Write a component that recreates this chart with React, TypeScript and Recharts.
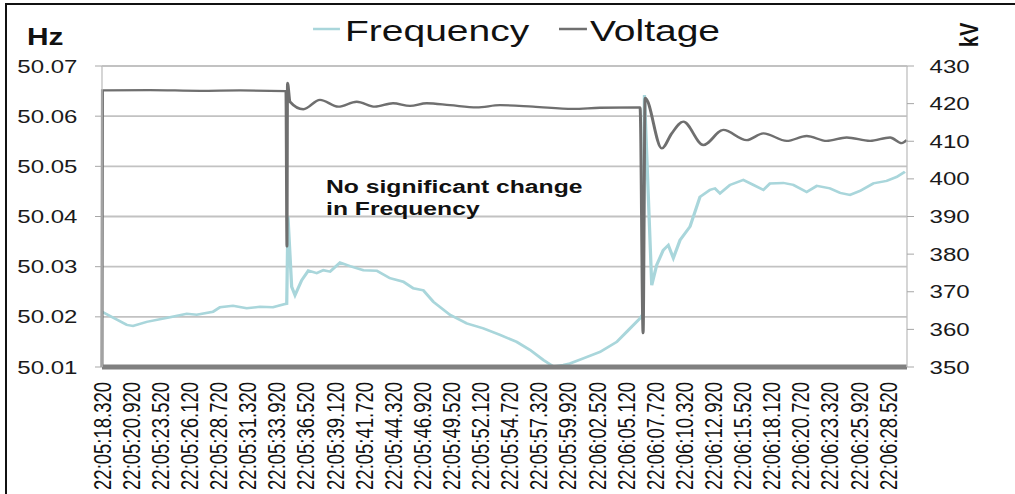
import { LineChart, Line, XAxis, YAxis, CartesianGrid } from 'recharts';

// the reference picture is horizontally stretched, so the chart is drawn narrow and scaled in x
const S = 1.3;
const W = 781;
const H = 494;

const timeLabels = [
  '22:05:18.320', '22:05:20.920', '22:05:23.520', '22:05:26.120', '22:05:28.720',
  '22:05:31.320', '22:05:33.920', '22:05:36.520', '22:05:39.120', '22:05:41.720',
  '22:05:44.320', '22:05:46.920', '22:05:49.520', '22:05:52.120', '22:05:54.720',
  '22:05:57.320', '22:05:59.920', '22:06:02.520', '22:06:05.120', '22:06:07.720',
  '22:06:10.320', '22:06:12.920', '22:06:15.520', '22:06:18.120', '22:06:20.720',
  '22:06:23.320', '22:06:25.920', '22:06:28.520',
];

// seconds after 22:05:18.320
const freqTime = [
  0, 2.21, 2.77, 3.99, 6.07, 7.57, 8.46, 9.91, 10.54, 11.7, 12.92, 14.11, 15.27, 16.26, 16.5,
  16.61, 16.94, 17.24, 17.84, 18.43, 19.18, 19.77, 20.37, 21.26, 22.15, 23.34, 24.54, 25.72,
  26.91, 27.8, 28.7, 29.59, 31.08, 32.57, 34.06, 35.55, 37.04, 38.23, 39.42, 40.31, 41.2, 41.8,
  42.99, 44.48, 45.97, 46.86, 48.06, 48.3, 48.45, 49.1, 49.54, 50.13, 50.58, 51.03, 51.63,
  52.52, 53.41, 54.31, 54.75, 55.2, 56.09, 57.28, 58.17, 59.07, 59.66, 60.85, 61.75, 62.94,
  63.84, 65.02, 65.92, 66.81, 67.7, 68.89, 70.09, 70.98, 71.72,
];
const freqHz = [
  50.021, 50.0184, 50.0182, 50.019, 50.0199, 50.0206, 50.0204, 50.021, 50.0219, 50.0222,
  50.0217, 50.022, 50.0219, 50.0225, 50.0226, 50.04, 50.026, 50.0243, 50.0273, 50.0292,
  50.0287, 50.0293, 50.029, 50.0308, 50.0301, 50.0293, 50.0292, 50.0277, 50.027, 50.0257,
  50.0253, 50.023, 50.0204, 50.0187, 50.0177, 50.0164, 50.015, 50.0134, 50.0114, 50.0101,
  50.0104, 50.0107, 50.0117, 50.013, 50.015, 50.017, 50.0197, 50.0205, 50.0642, 50.0263,
  50.0303, 50.0333, 50.0343, 50.0317, 50.0353, 50.038, 50.0439, 50.0453, 50.0456, 50.0446,
  50.0463, 50.0473, 50.0463, 50.0453, 50.0466, 50.0467, 50.0463, 50.0449, 50.0461, 50.0456,
  50.0447, 50.0443, 50.0451, 50.0466, 50.0471, 50.0479, 50.0489,
];

const voltTime = [
  0, 0.04, 4.29, 8.75, 12.33, 16.43, 16.52, 16.57, 16.79, 17.98, 19.47, 21.11, 22.75, 24.38,
  25.99, 27.51, 29.0, 31.08, 33.47, 35.55, 38.5, 42.07, 44.48, 48.06, 48.33, 48.51, 50.0,
  50.89, 51.92, 53.71, 55.49, 57.58, 59.07, 61.16, 62.94, 64.73, 66.51, 68.6, 70.39, 71.43,
  71.88,
];
const voltKv = [
  350, 423.5, 423.6, 423.4, 423.5, 423.3, 382, 425.5, 420.5, 418.5, 421, 419.2, 420.5, 419.2,
  420.1, 419.4, 420.1, 419.6, 419, 419.6, 419.2, 418.6, 418.9, 419, 359, 421.5, 408.1, 412.1,
  415.2, 409, 413, 410.3, 412.1, 410.1, 411.4, 410.1, 411, 410.1, 411, 409.5, 410.3,
];

const hzTicks = [50.01, 50.02, 50.03, 50.04, 50.05, 50.06, 50.07];
const kvTicks = [350, 360, 370, 380, 390, 400, 410, 420, 430];

const tickTimes = timeLabels.map((_, i) => Math.round(i * 26) / 10);

type Row = { t: number; freq?: number; volt?: number };
const rows = new Map<number, Row>();
freqTime.forEach((t, i) => {
  const r = rows.get(t) ?? { t };
  r.freq = freqHz[i];
  rows.set(t, r);
});
voltTime.forEach((t, i) => {
  const r = rows.get(t) ?? { t };
  r.volt = voltKv[i];
  rows.set(t, r);
});
const data = [...rows.values()].sort((a, b) => a.t - b.t);

const FONT = '"Liberation Sans", Arial, sans-serif';
const FREQ_COLOR = '#A9D6DB';
const VOLT_COLOR = '#6F6F6F';

const TimeTick = (props: any) => {
  const { x, payload } = props;
  const idx = tickTimes.indexOf(payload.value);
  return (
    <text
      transform={`translate(${x},382) rotate(-90)`}
      textAnchor="end"
      dy="0.36em"
      fontSize={18.5}
      fontFamily={FONT}
      fill="#111"
    >
      {timeLabels[idx]}
    </text>
  );
};

export default function App() {
  return (
    <div style={{ position: 'absolute', left: 0, top: 0, width: 1015, height: 494, overflow: 'hidden', background: '#fff' }}>
      <div
        style={{
          position: 'absolute', left: 5, top: 3, width: 1100, height: 600,
          border: '2px solid #111', boxSizing: 'border-box',
        }}
      />
      <div style={{ position: 'absolute', left: 0, top: 0, width: W, height: H, transform: `scaleX(${S})`, transformOrigin: '0 0' }}>
        <LineChart width={W} height={H} data={data} margin={{ top: 66, right: 0, bottom: 0, left: 0 }}>
          <CartesianGrid yAxisId="left" vertical={false} stroke="#C2C2C2" strokeWidth={1.8} />
          <XAxis
            dataKey="t"
            type="number"
            domain={[0, 71.9]}
            ticks={tickTimes}
            interval={0}
            height={127}
            tickLine={false}
            axisLine={{ stroke: '#808080', strokeWidth: 5 }}
            tick={<TimeTick />}
          />
          <YAxis
            yAxisId="left"
            domain={[50.01, 50.07]}
            ticks={hzTicks}
            width={78.46}
            tickSize={5.4}
            tickMargin={13.5}
            axisLine={{ stroke: '#BFBFBF' }}
            tickLine={{ stroke: '#A6A6A6' }}
            tickFormatter={(v: number) => v.toFixed(2)}
            tick={{ fontSize: 18.5, fontFamily: FONT, fill: '#1a1a1a' }}
          />
          <YAxis
            yAxisId="right"
            orientation="right"
            domain={[350, 430]}
            ticks={kvTicks}
            width={83.31}
            tickSize={5.4}
            tickMargin={12}
            axisLine={{ stroke: '#BFBFBF' }}
            tickLine={{ stroke: '#A6A6A6' }}
            tick={{ fontSize: 18.5, fontFamily: FONT, fill: '#1a1a1a' }}
          />
          <Line
            yAxisId="left"
            dataKey="freq"
            type="linear"
            stroke={FREQ_COLOR}
            strokeWidth={2.5}
            dot={false}
            connectNulls
            isAnimationActive={false}
          />
          <Line
            yAxisId="right"
            dataKey="volt"
            type="monotone"
            stroke={VOLT_COLOR}
            strokeWidth={2.3}
            dot={false}
            connectNulls
            isAnimationActive={false}
          />
        </LineChart>
        <svg width={W} height={H} style={{ position: 'absolute', left: 0, top: 0, pointerEvents: 'none' }} fontFamily={FONT}>
          <line x1={240.8} x2={261.5} y1={29} y2={29} stroke={FREQ_COLOR} strokeWidth={2.5} />
          <text x={265.4} y={41} fontSize={30} fill="#111">Frequency</text>
          <line x1={430} x2={451.5} y1={29} y2={29} stroke={VOLT_COLOR} strokeWidth={2.5} />
          <text x={453.8} y={41} fontSize={30} fill="#111">Voltage</text>
          <text x={20.8} y={45} fontSize={23} fontWeight="bold" fill="#111">Hz</text>
          <text transform="translate(745,35) rotate(-90)" textAnchor="middle" dy="0.36em" fontSize={20} fontWeight="bold" fill="#111">kV</text>
          <text x={250.8} y={193} fontSize={19} fontWeight="bold" fill="#111">No significant change</text>
          <text x={250.8} y={215} fontSize={19} fontWeight="bold" fill="#111">in Frequency</text>
        </svg>
      </div>
    </div>
  );
}
